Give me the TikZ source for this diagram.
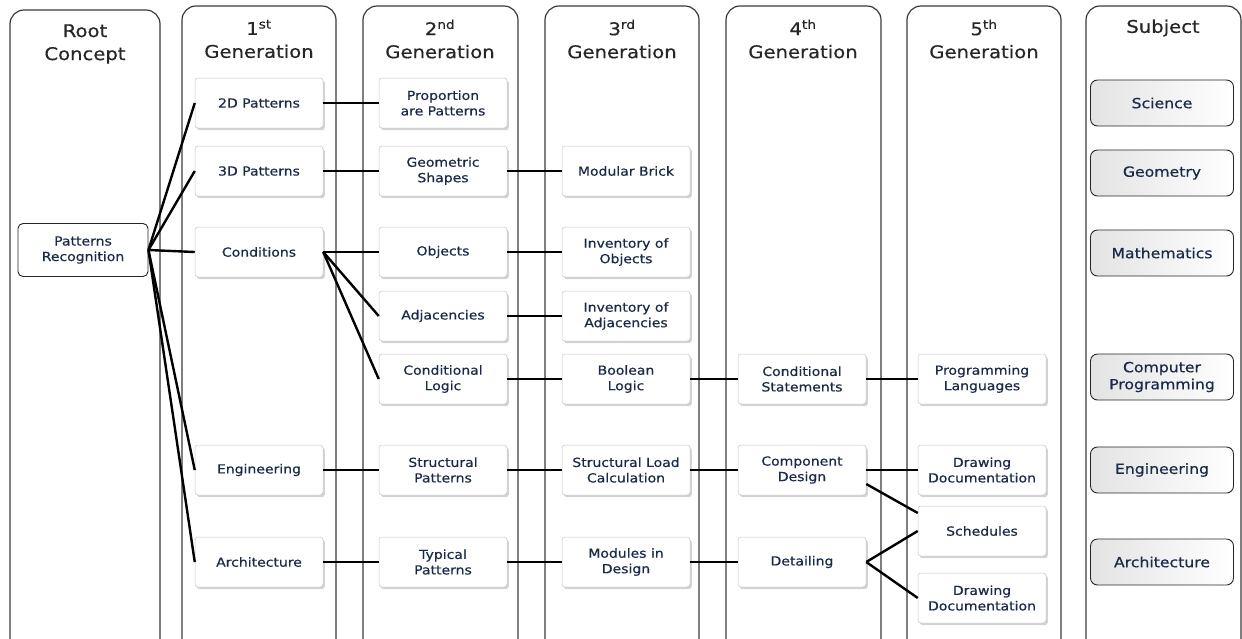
\documentclass[tikz,border=0pt]{standalone}
\usepackage{fontspec}
\setmainfont{DejaVu Sans}[FakeStretch=1.12,FakeBold=0.5]
\usetikzlibrary{shadows,calc}
\definecolor{navy}{HTML}{1B2A48}
\definecolor{panel}{HTML}{3A3A3A}
\tikzset{
  gen/.style={draw=gray!45, line width=0.5pt, fill=white, rounded corners=3pt,
    minimum width=128pt, minimum height=50pt, align=center, text=navy,
    font=\fontsize{12.5}{15.5}\selectfont, inner sep=2pt,
    drop shadow={shadow xshift=1.8pt, shadow yshift=-2.2pt, opacity=0.35, fill=gray}},
  rootbox/.style={draw=black!85, line width=0.9pt, fill=white, rounded corners=5pt,
    minimum width=130pt, minimum height=53pt, align=center, text=navy,
    font=\fontsize{12.5}{15.5}\selectfont, inner sep=2pt},
  subj/.style={draw=black!85, line width=0.9pt, rounded corners=7pt,
    left color=gray!22, middle color=white, right color=white,
    minimum width=143pt, minimum height=46pt, align=center, text=navy,
    font=\fontsize{14}{17}\selectfont, inner sep=2pt},
  head/.style={align=center, text=black!85, font=\fontsize{17.5}{23}\selectfont},
  link/.style={line width=2.4pt, black},
  pan/.style={draw=panel, line width=1.2pt, rounded corners=14pt}
}
\begin{document}
\begin{tikzpicture}[x=1pt,y=-1pt]
\useasboundingbox (0,0) rectangle (1242,638);
% panels
\draw[pan] (10,650) -- (10,10) -- (160,10) -- (160,650);
\draw[pan] (182,650) -- (182,6) -- (336,6) -- (336,650);
\draw[pan] (363,650) -- (363,6) -- (518,6) -- (518,650);
\draw[pan] (545,650) -- (545,6) -- (699,6) -- (699,650);
\draw[pan] (726,650) -- (726,6) -- (881,6) -- (881,650);
\draw[pan] (907,650) -- (907,6) -- (1061,6) -- (1061,650);
\draw[pan] (1086,650) -- (1086,6) -- (1241,6) -- (1241,650);
% headers
\node[head] (h0) at (85,44) {Root\\Concept};
\node[head] (h1) at (259,39) {1\textsuperscript{st}\\Generation};
\node[head] (h2) at (440,39) {2\textsuperscript{nd}\\Generation};
\node[head] (h3) at (622,39) {3\textsuperscript{rd}\\Generation};
\node[head] (h4) at (803,39) {4\textsuperscript{th}\\Generation};
\node[head] (h5) at (984,39) {5\textsuperscript{th}\\Generation};
\node[head] (hs) at (1163,28) {Subject};
% root
\node[rootbox] (root) at (83,250) {Patterns\\Recognition};
% 1st
\node[gen] (a1) at (259,103) {2D Patterns};
\node[gen] (a2) at (259,171) {3D Patterns};
\node[gen] (a3) at (259,252) {Conditions};
\node[gen] (a4) at (259,470) {Engineering};
\node[gen] (a5) at (259,562) {Architecture};
% 2nd
\node[gen] (b1) at (443,103) {Proportion\\are Patterns};
\node[gen] (b2) at (443,171) {Geometric\\Shapes};
\node[gen] (b3) at (443,252) {Objects};
\node[gen] (b4) at (443,316) {Adjacencies};
\node[gen] (b5) at (443,379) {Conditional\\Logic};
\node[gen] (b6) at (443,470) {Structural\\Patterns};
\node[gen] (b7) at (443,562) {Typical\\Patterns};
% 3rd
\node[gen] (c2) at (626,171) {Modular Brick};
\node[gen] (c3) at (626,252) {Inventory of\\Objects};
\node[gen] (c4) at (626,316) {Inventory of\\Adjacencies};
\node[gen] (c5) at (626,379) {Boolean\\Logic};
\node[gen] (c6) at (626,470) {Structural Load\\Calculation};
\node[gen] (c7) at (626,562) {Modules in\\Design};
% 4th
\node[gen] (d5) at (802,379) {Conditional\\Statements};
\node[gen] (d6) at (802,470) {Component\\Design};
\node[gen] (d7) at (802,562) {Detailing};
% 5th
\node[gen] (e5) at (982,379) {Programming\\Languages};
\node[gen] (e6) at (982,470) {Drawing\\Documentation};
\node[gen] (e7) at (982,531) {Schedules};
\node[gen] (e8) at (982,598) {Drawing\\Documentation};
% subjects
\node[subj] (s1) at (1162,103) {Science};
\node[subj] (s2) at (1162,173) {Geometry};
\node[subj] (s3) at (1162,253) {Mathematics};
\node[subj] (s4) at (1162,377) {Computer\\Programming};
\node[subj] (s5) at (1162,470) {Engineering};
\node[subj] (s6) at (1162,562) {Architecture};
% connectors
\foreach \n in {a1,a2,a3,a4,a5} \draw[link] (root.east) -- (\n.west);
\draw[link] (a1.east) -- (b1.west);
\draw[link] (a2.east) -- (b2.west);
\draw[link] (b2.east) -- (c2.west);
\foreach \n in {b3,b4,b5} \draw[link] (a3.east) -- (\n.west);
\draw[link] (b3.east) -- (c3.west);
\draw[link] (b4.east) -- (c4.west);
\draw[link] (b5.east) -- (c5.west);
\draw[link] (c5.east) -- (d5.west);
\draw[link] (d5.east) -- (e5.west);
\draw[link] (a4.east) -- (b6.west);
\draw[link] (b6.east) -- (c6.west);
\draw[link] (c6.east) -- (d6.west);
\draw[link] (d6.east) -- (e6.west);
\coordinate (cds) at ($(d6.east)+(0,14)$);
\coordinate (sct) at ($(e7.west)+(0,-18)$);
\draw[link] (cds) -- (sct);
\draw[link] (a5.east) -- (b7.west);
\draw[link] (b7.east) -- (c7.west);
\draw[link] (c7.east) -- (d7.west);
\draw[link] (d7.east) -- (e7.west);
\draw[link] (d7.east) -- (e8.west);
\end{tikzpicture}
\end{document}
